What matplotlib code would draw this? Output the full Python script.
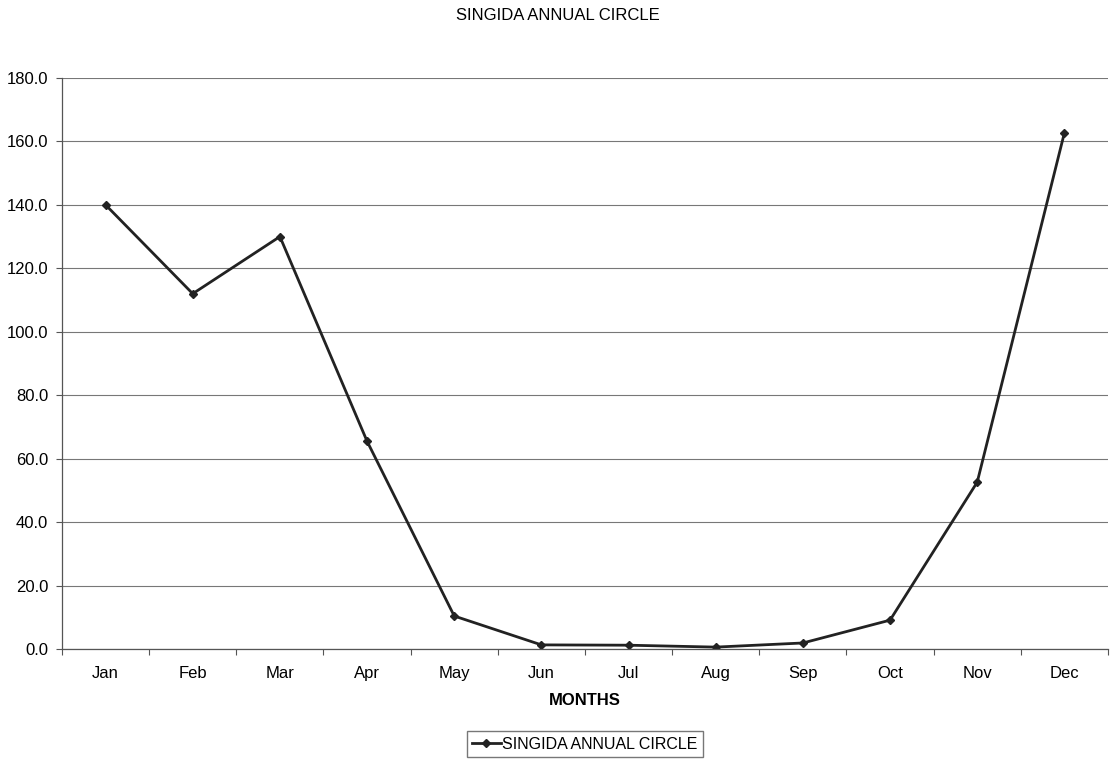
import matplotlib
matplotlib.use("Agg")
import matplotlib.pyplot as plt
from matplotlib.ticker import FixedLocator, FormatStrFormatter

plt.rcParams['font.family'] = ['Liberation Sans', 'DejaVu Sans']

months = ['Jan', 'Feb', 'Mar', 'Apr', 'May', 'Jun',
          'Jul', 'Aug', 'Sep', 'Oct', 'Nov', 'Dec']
rainfall = [140.0, 112.0, 130.0, 65.5, 10.4, 1.3,
            1.2, 0.6, 1.9, 9.1, 52.6, 162.7]
y_ticks = [0, 20, 40, 60, 80, 100, 120, 140, 160, 180]

fig = plt.figure(figsize=(11.15, 7.63), dpi=100)
ax = fig.add_axes([0.0556, 0.1494, 0.9381, 0.7484])

x = list(range(len(months)))
ax.plot(x, rainfall, color='#222222', linewidth=2.0, marker='D',
        markersize=4.5, label='SINGIDA ANNUAL CIRCLE')

ax.set_xlim(-0.5, len(months) - 0.5)
ax.set_ylim(0, 180)
ax.set_yticks(y_ticks)
ax.yaxis.set_major_formatter(FormatStrFormatter('%.1f'))
ax.grid(axis='y', color='#777777', linewidth=0.8)

# category ticks sit between months, labels centred on each month
ax.xaxis.set_major_locator(FixedLocator([i - 0.5 for i in range(len(months) + 1)]))
ax.xaxis.set_minor_locator(FixedLocator(x))
ax.set_xticklabels([])
ax.set_xticklabels(months, minor=True)
ax.tick_params(axis='x', which='minor', length=0, pad=12, labelsize=12)
ax.tick_params(axis='x', which='major', length=4, color='#555555')
ax.tick_params(axis='y', length=4, color='#555555', labelsize=12, pad=6)

for side in ['top', 'right']:
    ax.spines[side].set_visible(False)
for side in ['left', 'bottom']:
    ax.spines[side].set_color('#555555')
    ax.spines[side].set_linewidth(0.9)

ax.set_xlabel('MONTHS', fontsize=12, fontweight='bold', labelpad=9)
fig.suptitle('SINGIDA ANNUAL CIRCLE', y=0.99, fontsize=12)

leg = ax.legend(loc='upper center', bbox_to_anchor=(0.5, -0.13),
                frameon=True, fancybox=False, fontsize=11.5,
                handlelength=1.8, handletextpad=0.1, borderpad=0.35)
leg.get_frame().set_edgecolor('#555555')

fig.savefig('out.png', dpi=100)
